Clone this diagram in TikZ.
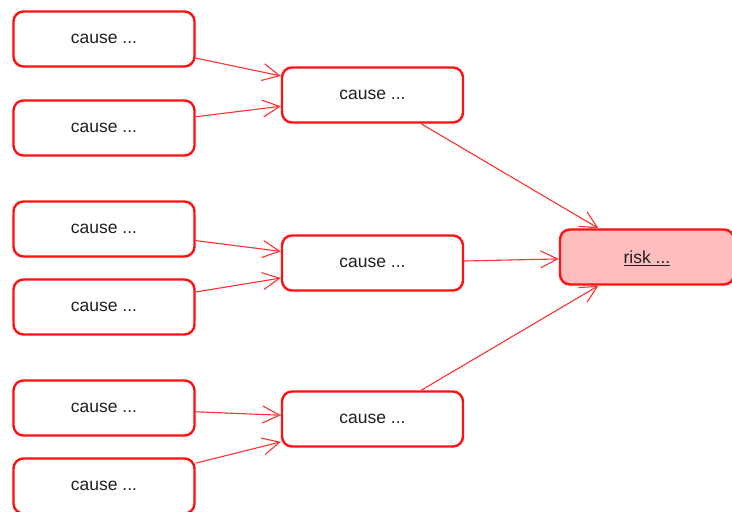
\documentclass[tikz,border=0pt]{standalone}
\usepackage{fontspec}
\setmainfont{Liberation Sans}
\usetikzlibrary{arrows.meta}
\definecolor{boxred}{HTML}{FF1010}
\definecolor{linered}{HTML}{FF3030}
\definecolor{riskfill}{HTML}{FFBCBC}
\definecolor{txt}{HTML}{202020}
\tikzset{
  box/.style={draw=boxred, line width=2.4pt, rounded corners=10pt, fill=white,
    minimum width=181pt, minimum height=55pt, inner sep=0pt, text=txt,
    text depth=0pt, font=\fontsize{17.5}{20}\selectfont},
  riskbox/.style={box, fill=riskfill},
  link/.style={draw=linered, line width=1.1pt, -{Straight Barb[length=17pt,width=17pt,line width=1.1pt]}}
}
\begin{document}
\begin{tikzpicture}[x=1pt,y=-1pt]
\useasboundingbox (0,0) rectangle (732,512);
\node[box] (c1) at (104,39) {cause ...};
\node[box] (c2) at (104,128) {cause ...};
\node[box] (c3) at (104,229) {cause ...};
\node[box] (c4) at (104,307) {cause ...};
\node[box] (c5) at (104,408) {cause ...};
\node[box] (c6) at (104,486) {cause ...};
\node[box] (m1) at (372.5,95) {cause ...};
\node[box] (m2) at (372.5,263) {cause ...};
\node[box] (m3) at (372.5,419) {cause ...};
\node[riskbox, minimum width=174pt] (r) at (647,257) {\underline{risk ...}};
\draw[link] (c1) -- (m1);
\draw[link] (c2) -- (m1);
\draw[link] (c3) -- (m2);
\draw[link] (c4) -- (m2);
\draw[link] (c5) -- (m3);
\draw[link] (c6) -- (m3);
\draw[link] (m1) -- (r);
\draw[link] (m2) -- (r);
\draw[link] (m3) -- (r);
\end{tikzpicture}
\end{document}
